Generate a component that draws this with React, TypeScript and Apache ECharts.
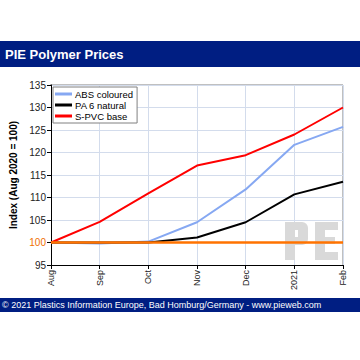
import React, { useEffect, useRef } from "react";
import * as echarts from "echarts";

const categories = ["Aug", "Sep", "Oct", "Nov", "Dec", "2021", "Feb"];
const absColoured = [100, 99.8, 100.2, 104.5, 111.8, 121.7, 125.7];
const pa6Natural = [100, 100, 100, 101.1, 104.5, 110.7, 113.5];
const spvcBase = [100, 104.6, 110.9, 117.1, 119.4, 124, 130];
const baseline = [100, 100, 100, 100, 100, 100, 100];
const yTicks = { min: 95, max: 135, interval: 5 };

const FONT = "'Liberation Sans', Arial, sans-serif";
const WM = "#d9d9d9";

export default function App() {
  const ref = useRef<HTMLDivElement>(null);
  useEffect(() => {
    const chart = echarts.init(ref.current!, null, { renderer: "svg" });
    const wm = (x: number, y: number, w: number, h: number, r: number | number[] = 0) => ({
      type: "rect",
      z: 1,
      shape: { x, y, width: w, height: h, r },
      style: { fill: WM },
    });
    chart.setOption({
      animation: false,
      backgroundColor: "#ffffff",
      textStyle: { fontFamily: FONT },
      graphic: [
        { type: "rect", shape: { x: 0, y: 41, width: 360, height: 26 }, style: { fill: "#001e82" } },
        { type: "text", x: 5, y: 54, style: { text: "PIE Polymer Prices", fill: "#ffffff", font: `bold 13px ${FONT}`, verticalAlign: "middle" } },
        { type: "rect", shape: { x: 0, y: 298, width: 360, height: 14 }, style: { fill: "#001e82" } },
        { type: "text", x: 2, y: 305, style: { text: "© 2021 Plastics Information Europe, Bad Homburg/Germany - www.pieweb.com", fill: "#ffffff", font: `9px ${FONT}`, verticalAlign: "middle" } },
        // PE watermark
        wm(285, 222, 10, 38),
        wm(285, 222, 16, 8),
        wm(298, 222, 10, 23, [0, 6, 6, 0]),
        wm(285, 237, 16, 8),
        wm(315, 222, 10, 38),
        wm(315, 222, 23, 8),
        wm(315, 237, 20, 7),
        wm(315, 252, 23, 8),
        { type: "line", shape: { x1: 50, y1: 85, x2: 343, y2: 85 }, style: { stroke: "#808080", lineWidth: 1 } },
        { type: "line", shape: { x1: 343, y1: 85, x2: 343, y2: 265 }, style: { stroke: "#808080", lineWidth: 1 } },
      ],
      grid: { left: 50, right: 17, top: 85, bottom: 95 },
      legend: {
        left: 53,
        top: 87,
        orient: "vertical",
        data: ["ABS coloured", "PA 6 natural", "S-PVC base"],
        backgroundColor: "#ffffff",
        borderColor: "#808080",
        borderWidth: 1,
        padding: [2, 4, 2, 2],
        itemGap: 1,
        itemWidth: 17,
        itemHeight: 3,
        icon: "rect",
        textStyle: { fontSize: 9.5, color: "#000", fontFamily: FONT, padding: [0, 0, 0, -2] },
      },
      xAxis: {
        type: "category",
        data: categories,
        boundaryGap: false,
        axisLine: { lineStyle: { color: "#000", width: 1 } },
        axisTick: { show: true, length: 4, lineStyle: { color: "#000" } },
        axisLabel: { rotate: 90, fontSize: 9, color: "#222", margin: 5, fontFamily: FONT },
        splitLine: { show: true, lineStyle: { color: "#d3dcec", width: 1 } },
      },
      yAxis: {
        type: "value",
        min: yTicks.min,
        max: yTicks.max,
        interval: yTicks.interval,
        name: "Index (Aug 2020 = 100)",
        nameLocation: "middle",
        nameGap: 33,
        nameTextStyle: { fontWeight: "bold", fontSize: 10, color: "#000", fontFamily: FONT },
        axisLine: { show: true, lineStyle: { color: "#000", width: 1 } },
        axisTick: { show: true, length: 4, lineStyle: { color: "#000" } },
        axisLabel: {
          fontSize: 10,
          color: "#222",
          margin: 5,
          fontFamily: FONT,
          formatter: (v: number) => (v === 100 ? "{o|100}" : String(v)),
          rich: { o: { color: "#f07000", fontSize: 10, fontFamily: FONT } },
        },
        splitLine: { show: true, lineStyle: { color: "#d3dcec", width: 1 } },
      },
      series: [
        { name: "baseline", type: "line", data: baseline, showSymbol: false, lineStyle: { color: "#ff7300", width: 2.5 }, itemStyle: { color: "#ff7300" }, z: 5 },
        { name: "ABS coloured", type: "line", data: absColoured, showSymbol: false, lineStyle: { color: "#86a8f2", width: 2 }, itemStyle: { color: "#86a8f2" }, z: 3 },
        { name: "PA 6 natural", type: "line", data: pa6Natural, showSymbol: false, lineStyle: { color: "#000000", width: 2 }, itemStyle: { color: "#000000" }, z: 3 },
        { name: "S-PVC base", type: "line", data: spvcBase, showSymbol: false, lineStyle: { color: "#ff0000", width: 2 }, itemStyle: { color: "#ff0000" }, z: 4 },
      ],
    });
    return () => chart.dispose();
  }, []);
  return <div ref={ref} style={{ position: "absolute", left: 0, top: 0, width: 360, height: 360 }} />;
}
